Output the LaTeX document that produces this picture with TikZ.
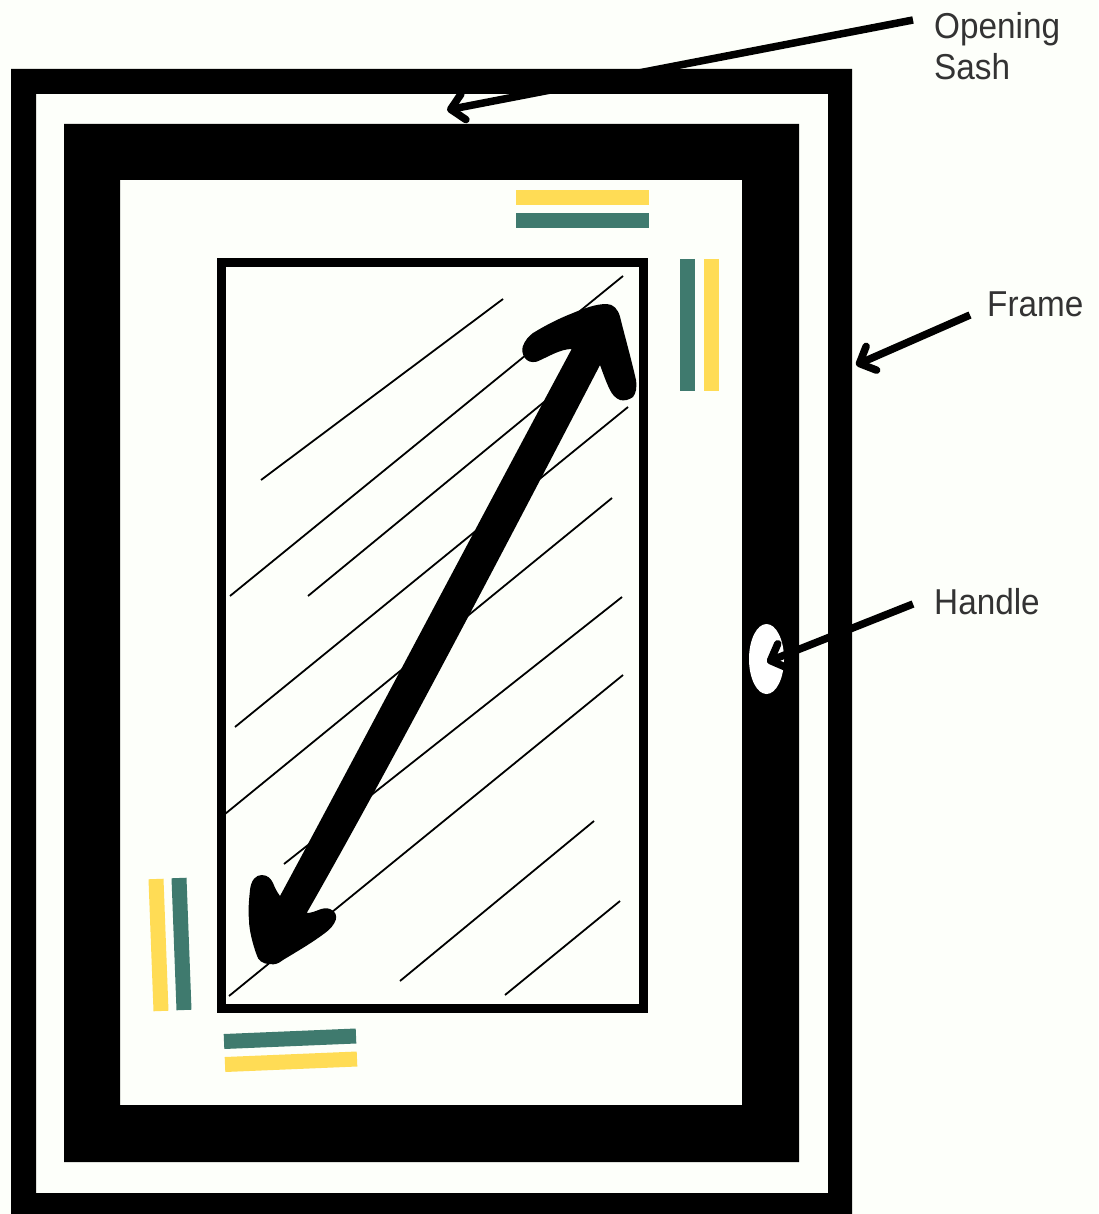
\documentclass[tikz,border=0pt]{standalone}
\usepackage{fontspec}
\setmainfont{Liberation Sans}[FakeStretch=0.925]
\usetikzlibrary{arrows.meta,shapes.geometric}
\definecolor{paper}{HTML}{FDFFFA}
\definecolor{barYellow}{HTML}{FFDC55}
\definecolor{barTeal}{HTML}{3F7A6E}
\definecolor{labelGray}{HTML}{333333}

\begin{document}
\begin{tikzpicture}[x=1pt,y=-1pt,
    callout/.style={anchor=west,inner ysep=0pt,inner xsep=0pt,align=left,text=labelGray,font=\fontsize{36}{41}\selectfont},
    pointer/.style={line width=7.5pt,-{Straight Barb[length=13pt,width=26pt,round]}},
    hatch/.style={line width=1.8pt},
    bar/.style={line width=15pt}]
    \fill[paper] (0,0) rectangle (1098,1214);
    \useasboundingbox (0,0) rectangle (1098,1214);
    % frame and sash
    \fill[even odd rule] (11,69) rectangle (852,1214) (36,94) rectangle (828,1193);
    \fill[even odd rule] (64,124) rectangle (799,1162) (120,180) rectangle (742,1105);
    \node[ellipse,fill=white,inner sep=0pt,minimum width=35pt,minimum height=70pt] (handle) at (766.5,659) {};
    % glass
    \draw[line width=8.5pt] (221.5,262.5) rectangle (643.5,1008.5);
    \draw[hatch] (261,480) -- (503,299);
    \draw[hatch] (230,596) -- (623,276);
    \draw[hatch] (308,596) -- (555,393);
    \draw[hatch] (235,727) -- (628,407);
    \draw[hatch] (225,814) -- (612,498);
    \draw[hatch] (284,864) -- (622,597);
    \draw[hatch] (229,996) -- (623,675);
    \draw[hatch] (400,981) -- (594,821);
    \draw[hatch] (505,995) -- (620,901);
    % opening direction
    \fill (600,365) .. controls (535,490) and (400,750) .. (306.7,913)
        .. controls (316,913) and (322,906) .. (330,909)
        .. controls (336,911) and (337,917) .. (335.7,920)
        .. controls (334,925) and (330,929) .. (326.7,931.7)
        .. controls (312,943) and (296,952) .. (283,960)
        .. controls (278,964) and (274,965) .. (270,964)
        .. controls (262,964) and (258,960) .. (256.7,955)
        .. controls (253,945) and (249,930) .. (249,920)
        .. controls (248,910) and (249,900) .. (250,890)
        .. controls (251,880) and (256,875) .. (261.7,875)
        .. controls (268,875) and (271,879) .. (273,883)
        .. controls (275,888) and (277,892) .. (280,896)
        .. controls (340,785) and (480,520) .. (571.7,349)
        .. controls (560,349) and (548,357) .. (536.7,361.7)
        .. controls (531,363) and (527,361) .. (525,358)
        .. controls (522,354) and (522,350) .. (522.7,346.7)
        .. controls (525,340) and (529,336) .. (533,333)
        .. controls (546,325) and (560,318) .. (573,313)
        .. controls (585,308) and (596,304) .. (606.7,304)
        .. controls (613,304) and (618,309) .. (620,316.7)
        .. controls (625,337) and (631,358) .. (636,380)
        .. controls (637,388) and (636,393) .. (633,397)
        .. controls (629,400) and (624,401) .. (620,400)
        .. controls (615,398) and (612,394) .. (610,390)
        .. controls (606,382) and (603,373) .. (600,365) -- cycle;
    % seals
    \draw[bar,barYellow] (516,197.5) -- (649,197.5);
    \draw[bar,barTeal] (516,220.5) -- (649,220.5);
    \draw[bar,barTeal] (687.5,259) -- (687.5,391);
    \draw[bar,barYellow] (711.5,259) -- (711.5,391);
    \draw[bar,barYellow] (156,879) -- (161,1011);
    \draw[bar,barTeal] (179,878) -- (184,1010);
    \draw[bar,barTeal] (224,1041.5) -- (356,1036);
    \draw[bar,barYellow] (225,1064.5) -- (357,1059);
    % labels
    \node[callout] (lblsash) at (934,46) {Opening\\Sash};
    \node[callout] (lblframe) at (987,304) {Frame};
    \node[callout] (lblhandle) at (934,602) {Handle};
    \coordinate (sashtip) at (447,110);
    \coordinate (frametip) at (856,365);
    \coordinate (handletip) at (767,662);
    \draw[pointer] ([xshift=-21pt,yshift=26pt]lblsash.west) -- (sashtip);
    \draw[pointer] ([xshift=-17pt,yshift=-11pt]lblframe.west) -- (frametip);
    \draw[pointer] ([xshift=-21pt,yshift=-2pt]lblhandle.west) -- (handletip);
\end{tikzpicture}
\end{document}
